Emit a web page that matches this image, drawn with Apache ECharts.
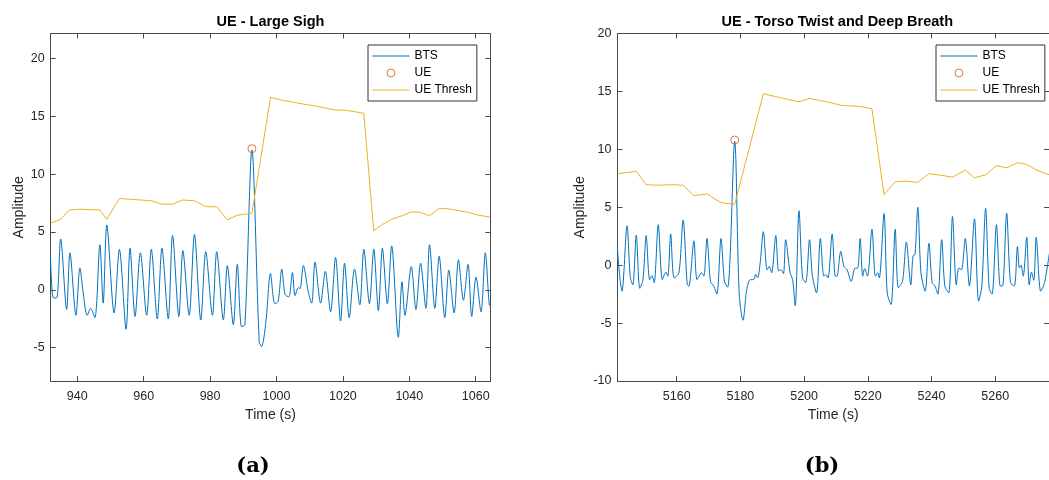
<!DOCTYPE html>
<html>
<head>
<meta charset="utf-8">
<script src="https://cdn.jsdelivr.net/npm/echarts@6/dist/echarts.min.js"></script>
<style>html,body{margin:0;padding:0;background:#fff}#c{width:1049px;height:480px}</style>
</head>
<body>
<div id="c"></div>
<script>
// ---------- data ----------
var titlesA = 'UE - Large Sigh';
var titlesB = 'UE - Torso Twist and Deep Breath';
var captionA = '(a)';
var captionB = '(b)';
var xTicksA = [940, 960, 980, 1000, 1020, 1040, 1060];
var xTicksB = [5160, 5180, 5200, 5220, 5240, 5260];
var yTicksA = [-5, 0, 5, 10, 15, 20];
var yTicksB = [-10, -5, 0, 5, 10, 15, 20];
var xRangeA = [932, 1064.4];
var xRangeB = [5141.4, 5276.9];
var yRangeA = [-7.88, 22.16];
var yRangeB = [-10, 20];

var btsA = [[931.9,3.1],[932.8,-0.7],[933.8,-0.7],[935.0,4.4],[936.8,-1.7],[937.8,3.2],[939.6,-2.2],[940.8,1.9],[941.8,-0.3],[943.0,-2.2],[944.0,-1.6],[945.3,-2.4],[946.8,3.9],[947.8,-1.15],[948.9,5.6],[951.1,-2.0],[952.7,3.5],[954.7,-3.4],[955.9,3.6],[957.4,-2.3],[959.0,3.2],[960.9,-2.2],[962.3,3.5],[964.1,-2.5],[965.5,3.6],[967.4,-2.5],[968.7,4.7],[970.6,-2.3],[971.8,3.4],[973.7,-2.2],[975.3,4.8],[977.2,-2.6],[978.7,3.3],[980.7,-2.2],[982.0,3.3],[984.0,-2.6],[985.2,2.1],[987.0,-3.0],[988.2,2.2],[989.5,-3.2],[990.5,-3.0],[992.6,12.1],[994.8,-4.5],[995.5,-4.9],[996.8,-2.8],[998.2,1.4],[999.5,-1.2],[1000.5,-1.0],[1001.6,1.8],[1002.6,-0.4],[1003.7,-0.6],[1004.8,1.5],[1005.6,-0.5],[1006.6,0.2],[1007.1,0.1],[1008.1,2.1],[1009.6,-0.2],[1010.6,-1.15],[1011.6,2.4],[1013.3,-1.15],[1014.7,1.6],[1016.3,-1.9],[1017.8,2.8],[1019.3,-2.7],[1020.5,2.3],[1021.9,-2.4],[1023.5,1.8],[1025.1,-1.3],[1026.3,3.5],[1028.0,-1.2],[1029.3,3.5],[1030.7,-1.8],[1031.9,3.6],[1033.4,-1.2],[1034.7,3.8],[1036.7,-4.1],[1037.8,0.7],[1038.7,-2.2],[1040.6,2.0],[1042.0,-1.7],[1043.4,2.3],[1045.0,-1.6],[1046.1,3.9],[1047.7,-1.6],[1049.0,2.9],[1050.7,-2.4],[1051.9,1.7],[1053.5,-2.0],[1054.8,2.6],[1056.3,-0.9],[1057.7,2.2],[1058.8,-2.3],[1060.1,1.1],[1061.6,-1.9],[1062.9,3.2],[1064.1,-1.3],[1064.6,-1.4]];
var ueA = [[992.6, 12.2]];
var threshA = [[932.0,5.76],[935.0,6.1],[937.6,6.9],[940.8,6.97],[946.8,6.9],[948.9,6.1],[952.7,7.9],[955.9,7.83],[959.0,7.77],[962.3,7.7],[965.5,7.4],[968.7,7.4],[971.8,7.77],[975.3,7.7],[978.7,7.2],[982.0,7.17],[985.2,6.05],[988.2,6.45],[991.0,6.56],[992.6,6.6],[998.2,16.64],[1001.6,16.4],[1008.1,16.06],[1011.6,15.9],[1017.8,15.54],[1020.5,15.54],[1023.5,15.4],[1026.3,15.26],[1029.3,5.1],[1031.9,5.65],[1034.7,6.1],[1037.8,6.4],[1040.6,6.74],[1043.4,6.7],[1046.1,6.4],[1049.0,7.05],[1051.9,7.0],[1054.8,6.85],[1057.7,6.7],[1060.1,6.5],[1064.4,6.28]];

var btsB = [[5141.3,1.6],[5142.1,-0.95],[5142.8,-2.25],[5144.4,3.4],[5145.4,-1.0],[5146.2,-1.7],[5147.3,2.6],[5148.4,-2.0],[5149.4,-1.25],[5150.4,2.55],[5151.5,-1.25],[5152.2,-0.9],[5152.9,-1.5],[5154.2,3.5],[5155.5,-1.25],[5156.6,-0.6],[5157.2,-0.95],[5158.1,2.7],[5159.2,-1.1],[5160.7,-0.65],[5162.0,3.9],[5163.3,-1.7],[5163.8,-1.8],[5165.4,2.1],[5166.4,-1.25],[5167.8,-0.66],[5168.5,-0.95],[5169.5,2.3],[5170.6,-1.4],[5171.6,-1.8],[5172.6,-2.5],[5173.9,2.3],[5175.0,-1.4],[5176.0,-1.9],[5178.2,10.7],[5179.6,-2.4],[5180.8,-4.75],[5182.0,-2.1],[5183.1,-1.25],[5184.1,-1.25],[5184.8,-0.8],[5185.4,-1.1],[5186.2,0.2],[5187.2,2.9],[5188.4,-0.4],[5189.1,-0.1],[5189.8,-0.66],[5191.1,2.55],[5192.0,-0.5],[5192.7,-0.4],[5193.5,-0.72],[5194.2,2.2],[5195.6,-0.66],[5196.4,-1.25],[5197.2,-3.5],[5198.4,4.7],[5199.5,-1.1],[5200.5,-1.5],[5201.7,2.2],[5202.6,-0.9],[5203.9,-2.4],[5205.1,2.3],[5206.2,-0.95],[5206.8,-0.8],[5207.5,-1.1],[5208.8,2.7],[5209.8,-0.95],[5210.3,-0.95],[5211.5,1.2],[5212.5,-0.1],[5213.5,-0.4],[5214.8,-1.4],[5216.0,-0.25],[5216.8,-0.25],[5217.6,2.3],[5218.4,-0.95],[5219.0,-0.3],[5219.9,-0.95],[5221.3,3.1],[5222.4,-0.95],[5223.1,-0.66],[5223.6,-1.1],[5225.1,4.45],[5226.1,-2.4],[5227.3,-3.4],[5228.6,3.1],[5229.6,-1.95],[5230.9,-1.4],[5232.1,2.0],[5233.5,-1.7],[5234.2,0.8],[5234.8,0.9],[5235.7,5.0],[5236.7,-0.66],[5238.0,-2.25],[5239.2,1.9],[5240.2,-1.5],[5241.1,-1.8],[5242.0,-2.5],[5243.2,2.2],[5244.2,-1.8],[5245.4,-2.4],[5246.6,4.2],[5247.8,-1.7],[5248.6,-0.25],[5249.4,-0.4],[5250.6,2.3],[5251.9,-1.8],[5253.5,4.0],[5254.8,-3.1],[5255.8,-1.8],[5257.0,4.9],[5258.1,-1.96],[5259.0,-2.5],[5260.4,3.5],[5261.6,-1.8],[5262.3,-1.8],[5263.6,4.5],[5264.8,-1.5],[5266.0,-1.8],[5267.0,1.6],[5267.6,-0.25],[5268.1,0],[5268.8,-0.95],[5269.9,2.4],[5270.7,-1.7],[5271.4,-0.6],[5272.1,-1.3],[5272.9,2.4],[5274.3,-2.25],[5275.5,-1.5],[5277.0,1.0]];
var ueB = [[5178.2, 10.8]];
var threshB = [[5141.4,7.9],[5144.4,8.0],[5147.3,8.1],[5150.4,6.95],[5154.2,6.9],[5158.1,6.95],[5162.0,6.9],[5165.4,6.0],[5169.5,6.15],[5173.9,5.4],[5178.2,5.25],[5187.2,14.8],[5191.1,14.55],[5198.4,14.1],[5201.7,14.4],[5208.8,14.0],[5211.5,13.8],[5217.6,13.7],[5221.3,13.5],[5225.1,6.1],[5228.6,7.2],[5232.1,7.25],[5235.7,7.15],[5239.2,7.9],[5243.2,7.75],[5246.6,7.6],[5250.6,8.2],[5253.5,7.55],[5257.0,7.8],[5260.4,8.6],[5263.6,8.4],[5267.0,8.85],[5269.9,8.7],[5273.0,8.2],[5277.0,7.8]];
var legendNames = ['BTS', 'UE', 'UE Thresh'];

// ---------- styling ----------
var FONT = "'Liberation Sans', Arial, Helvetica, sans-serif";
var AX = '#4a4a4a';
var TXT = '#262626';
var C_BTS = '#0072BD', C_UE = '#D95319', C_TH = '#EDB120';
function plain(v) { return String(v); }

function xAx(grid, range, ticks, withLabels) {
  return {
    type: 'value', gridIndex: grid, min: range[0], max: range[1],
    position: withLabels ? 'bottom' : 'top',
    axisLine: {show: true, onZero: false, lineStyle: {color: AX, width: 1}},
    axisTick: {show: true, inside: true, length: 5, customValues: ticks, lineStyle: {color: AX}},
    axisLabel: withLabels ? {show: true, customValues: ticks, formatter: plain, margin: 9, color: TXT, fontSize: 12.5, fontFamily: FONT} : {show: false},
    splitLine: {show: false},
    name: withLabels ? 'Time (s)' : '', nameLocation: 'middle', nameGap: 27,
    nameTextStyle: {fontSize: 14, color: TXT, fontFamily: FONT}
  };
}
function yAx(grid, range, ticks, withLabels, gap) {
  return {
    type: 'value', gridIndex: grid, min: range[0], max: range[1],
    position: withLabels ? 'left' : 'right',
    axisLine: {show: true, onZero: false, lineStyle: {color: AX, width: 1}},
    axisTick: {show: true, inside: true, length: 5, customValues: ticks, lineStyle: {color: AX}},
    axisLabel: withLabels ? {show: true, customValues: ticks, formatter: plain, margin: 6, color: TXT, fontSize: 12.5, fontFamily: FONT} : {show: false},
    splitLine: {show: false},
    name: withLabels ? 'Amplitude' : '', nameLocation: 'middle', nameGap: gap, nameRotate: 90,
    nameTextStyle: {fontSize: 14, color: TXT, fontFamily: FONT}
  };
}
function legendAt(left) {
  return {
    data: [
      {name: legendNames[0], itemStyle: {opacity: 0}},
      {name: legendNames[1], itemStyle: {borderWidth: 1, borderColor: C_UE, color: 'rgba(255,255,255,0)'}},
      {name: legendNames[2], itemStyle: {opacity: 0}}
    ],
    left: left, top: 45, orient: 'vertical',
    itemWidth: 37, itemHeight: 8, itemGap: 5, padding: [5, 5, 5, 4],
    lineStyle: {width: 1},
    borderColor: '#333', borderWidth: 1, backgroundColor: '#fff',
    selectedMode: false,
    textStyle: {fontSize: 12, color: '#000', fontFamily: FONT}
  };
}
function seriesFor(idx, bts, ue, th) {
  return [
    {name: 'BTS', type: 'line', xAxisIndex: idx, yAxisIndex: idx, data: bts, symbol: 'none', smooth: 0.3,
     color: C_BTS, lineStyle: {color: C_BTS, width: 1}, z: 2},
    {name: 'UE', type: 'scatter', xAxisIndex: idx, yAxisIndex: idx, data: ue, symbol: 'circle', symbolSize: 8,
     itemStyle: {color: 'rgba(255,255,255,0)', borderColor: C_UE, borderWidth: 1}, z: 3},
    {name: 'UE Thresh', type: 'line', xAxisIndex: idx, yAxisIndex: idx, data: th, symbol: 'none',
     color: C_TH, lineStyle: {color: C_TH, width: 1}, z: 4}
  ];
}

var chart = echarts.init(document.getElementById('c'), null, {renderer: 'canvas'});
chart.setOption({
  animation: false,
  backgroundColor: '#fff',
  title: [
    {text: titlesA, left: 270.5, top: 14, textAlign: 'center', padding: 0, textStyle: {fontSize: 14.5, fontWeight: 'bold', color: '#000', fontFamily: FONT}},
    {text: titlesB, left: 837.3, top: 14, textAlign: 'center', padding: 0, textStyle: {fontSize: 14.5, fontWeight: 'bold', color: '#000', fontFamily: FONT}},
    {text: captionA, left: 253, top: 456, textAlign: 'center', padding: 0, textStyle: {fontSize: 21, fontWeight: 'bold', color: '#000', fontFamily: "'DejaVu Serif', serif"}},
    {text: captionB, left: 822, top: 456, textAlign: 'center', padding: 0, textStyle: {fontSize: 21, fontWeight: 'bold', color: '#000', fontFamily: "'DejaVu Serif', serif"}}
  ],
  legend: [legendAt(368), legendAt(936)],
  grid: [
    {left: 50.7, top: 33.5, width: 439.6, height: 347.5},
    {left: 617.5, top: 33.5, width: 439.6, height: 347.5}
  ],
  xAxis: [xAx(0, xRangeA, xTicksA, true), xAx(0, xRangeA, xTicksA, false), xAx(1, xRangeB, xTicksB, true), xAx(1, xRangeB, xTicksB, false)],
  yAxis: [yAx(0, yRangeA, yTicksA, true, 25), yAx(0, yRangeA, yTicksA, false, 0), yAx(1, yRangeB, yTicksB, true, 30), yAx(1, yRangeB, yTicksB, false, 0)],
  series: seriesFor(0, btsA, ueA, threshA).concat(
    seriesFor(2, btsB, ueB, threshB))
});
</script>
</body>
</html>
